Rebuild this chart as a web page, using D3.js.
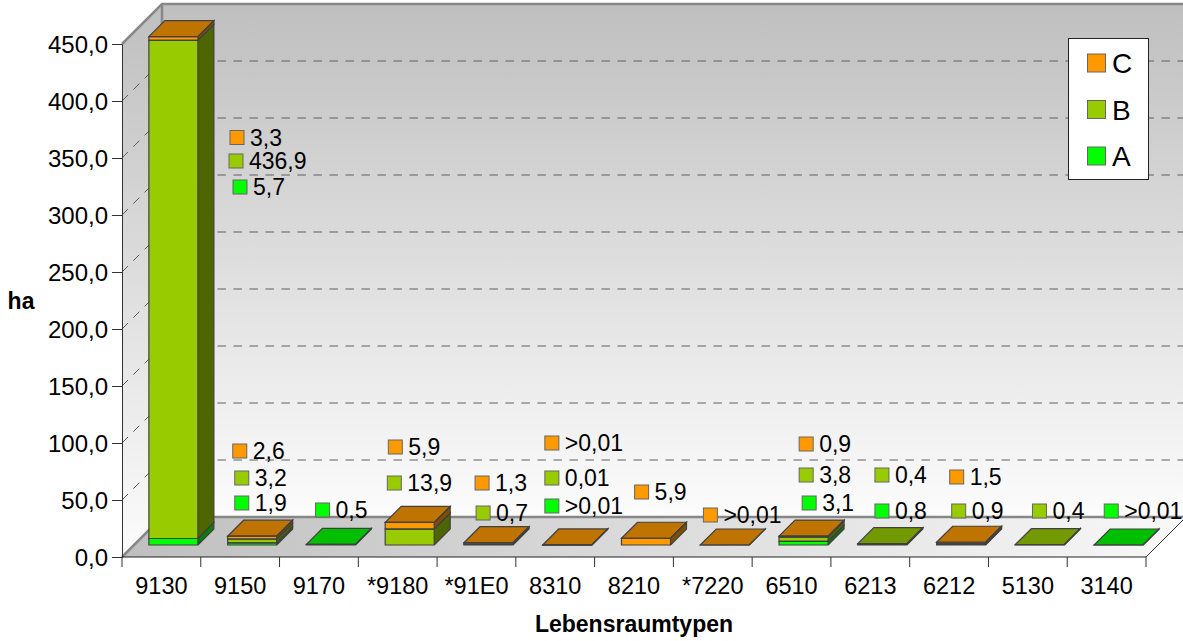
<!DOCTYPE html>
<html>
<head>
<meta charset="utf-8">
<script src="https://cdn.jsdelivr.net/npm/d3@7"></script>
<style>
body { margin: 0; background: #fff; overflow: hidden; }
text { font-family: "Liberation Sans", Arial, sans-serif; fill: #000; }
</style>
</head>
<body>
<div id="chart"></div>
<script>
var categories = ["9130", "9150", "9170", "*9180", "*91E0", "8310", "8210", "*7220", "6510", "6213", "6212", "5130", "3140"];
var yTicks = [0, 50, 100, 150, 200, 250, 300, 350, 400, 450];

// null = no segment in that class. ">0,01" is drawn as 0.01
var valuesA = [5.7, 1.9, 0.5, null, null, 0.01, null, null, 3.1, 0.8, null, null, 0.01];
var valuesB = [436.9, 3.2, null, 13.9, 0.7, 0.01, null, null, 3.8, 0.4, 0.9, 0.4, null];
var valuesC = [3.3, 2.6, null, 5.9, 1.3, 0.01, 5.9, 0.01, 0.9, null, 1.5, null, null];

var labelsA = ["5,7", "1,9", "0,5", null, null, ">0,01", null, null, "3,1", "0,8", null, null, ">0,01"];
var labelsB = ["436,9", "3,2", null, "13,9", "0,7", "0,01", null, null, "3,8", "0,4", "0,9", "0,4", null];
var labelsC = ["3,3", "2,6", null, "5,9", "1,3", ">0,01", "5,9", ">0,01", "0,9", null, "1,5", null, null];

// where the chart put each label box: [right of category edge, above floor line]
var spotsA = [[111, 370], [34, 54], [36, 47], null, null, [29, 51], null, null, [50, 54], [44, 46], null, null, [37, 46]];
var spotsB = [[107, 396], [34, 79], null, [29, 74], [39, 44], [29, 79], null, null, [47, 82], [44, 82], [42, 46], [44, 46], null];
var spotsC = [[108, 419.5], [32, 106], null, [30, 110], [38, 74], [29, 114], [40, 65], [30, 42], [47, 113], null, [40, 80], null, null];

var classes = [
    { name: "A", values: valuesA, labels: labelsA, spots: spotsA, front: "#00ff00", top: "#00bf00", side: "#008000" },
    { name: "B", values: valuesB, labels: labelsB, spots: spotsB, front: "#99cc00", top: "#739900", side: "#4d6600" },
    { name: "C", values: valuesC, labels: labelsC, spots: spotsC, front: "#ff9900", top: "#bf7300", side: "#804d00" }
];

var width = 1183, height = 641;
var left = 122, right = 1146, floorY = 557, topY = 44;
var wallDepth = 40, barDepth = 16, barInset = 12, barWidth = 49;

var svg = d3.select("#chart").append("svg")
    .attr("width", width)
    .attr("height", height)
    .style("display", "block");

var x = d3.scaleBand().domain(categories).range([left, right]);
var y = d3.scaleLinear().domain([0, 450]).range([floorY, topY]);

function points(list) {
    return list.map(function(p){ return p.join(","); }).join(" ");
}

// Wall gradients
var defs = svg.append("defs");
var wallGrad = defs.append("linearGradient").attr("id", "wall")
    .attr("x1", 0).attr("y1", 0).attr("x2", 0).attr("y2", 1);
wallGrad.append("stop").attr("offset", 0).attr("stop-color", "#bfbfbf");
wallGrad.append("stop").attr("offset", 1).attr("stop-color", "#fcfcfc");
var floorGrad = defs.append("linearGradient").attr("id", "floor")
    .attr("x1", 0).attr("y1", 0).attr("x2", 1).attr("y2", 0);
floorGrad.append("stop").attr("offset", 0).attr("stop-color", "#bfbfbf");
floorGrad.append("stop").attr("offset", 1).attr("stop-color", "#f8f8f8");

svg.append("polygon")
    .attr("points", points([[left, y(450)], [left + wallDepth, y(450) - wallDepth], [left + wallDepth, y(0) - wallDepth], [left, y(0)]]))
    .attr("fill", "url(#wall)");
svg.append("polygon")
    .attr("points", points([[left + wallDepth, y(450) - wallDepth], [right + wallDepth, y(450) - wallDepth], [right + wallDepth, y(0) - wallDepth], [left + wallDepth, y(0) - wallDepth]]))
    .attr("fill", "url(#wall)");
svg.append("polygon")
    .attr("points", points([[left, y(0)], [left + wallDepth, y(0) - wallDepth], [right + wallDepth, y(0) - wallDepth], [right, y(0)]]))
    .attr("fill", "url(#floor)");

// Grid lines, along the left wall and then the back wall
var gridTicks = yTicks.filter(function(d){ return d > 0 && d < 450; });
svg.append("g").selectAll("path")
    .data(gridTicks)
    .enter().append("path")
    .attr("d", function(d){
        return "M" + left + "," + y(d) + "L" + (left + wallDepth) + "," + (y(d) - wallDepth) + "L" + (right + wallDepth) + "," + (y(d) - wallDepth);
    })
    .attr("fill", "none")
    .attr("stroke", "#5e5e5e")
    .attr("stroke-width", 1)
    .attr("stroke-dasharray", "8.5,7.5");

// Wall edges
var edges = [
    [[left, y(450)], [left + wallDepth, y(450) - wallDepth], [right + wallDepth, y(450) - wallDepth]],
    [[left + wallDepth, y(450) - wallDepth], [left + wallDepth, y(0) - wallDepth]],
    [[left, y(0)], [left + wallDepth, y(0) - wallDepth], [right + wallDepth, y(0) - wallDepth]]
];
svg.append("g").selectAll("path")
    .data(edges)
    .enter().append("path")
    .attr("d", d3.line())
    .attr("fill", "none")
    .attr("stroke", "#878787")
    .attr("stroke-width", 2.5);
svg.append("line")
    .attr("x1", right).attr("y1", y(0))
    .attr("x2", right + wallDepth).attr("y2", y(0) - wallDepth)
    .attr("stroke", "#333")
    .attr("stroke-width", 1);

// Stacked 3D bars
var barsG = svg.append("g");
categories.forEach(function(cat, i){
    var x0 = x(cat) + (x.bandwidth() - barWidth) / 2 + barInset;
    var x1 = x0 + barWidth;
    var base = 0;
    var last = null;
    classes.forEach(function(c){
        if(c.values[i] === null) return;
        var y0 = y(base) - barInset;
        var y1 = y(base + c.values[i]) - barInset;
        barsG.append("polygon")
            .attr("points", points([[x1, y0], [x1 + barDepth, y0 - barDepth], [x1 + barDepth, y1 - barDepth], [x1, y1]]))
            .attr("fill", c.side);
        barsG.append("rect")
            .attr("x", x0).attr("y", y1)
            .attr("width", barWidth).attr("height", y0 - y1)
            .attr("fill", c.front);
        base += c.values[i];
        last = { c: c, y1: y1 };
    });
    barsG.append("polygon")
        .attr("points", points([[x0, last.y1], [x0 + barDepth, last.y1 - barDepth], [x1 + barDepth, last.y1 - barDepth], [x1, last.y1]]))
        .attr("fill", last.c.top);
    // outlines on top of the fills
    var b = 0;
    classes.forEach(function(c){
        if(c.values[i] === null) return;
        var y0 = y(b) - barInset;
        var y1 = y(b + c.values[i]) - barInset;
        barsG.append("path")
            .attr("d", "M" + x0 + "," + y0 + "H" + x1 + "V" + y1 + "H" + x0 + "Z"
                + "M" + x1 + "," + y0 + "l" + barDepth + "," + (-barDepth) + "V" + (y1 - barDepth) + "L" + x1 + "," + y1)
            .attr("fill", "none")
            .attr("stroke", "#404040")
            .attr("stroke-width", 1.2);
        b += c.values[i];
    });
    barsG.append("path")
        .attr("d", "M" + x0 + "," + last.y1 + "l" + barDepth + "," + (-barDepth) + "H" + (x1 + barDepth) + "L" + x1 + "," + last.y1 + "Z")
        .attr("fill", "none")
        .attr("stroke", "#404040")
        .attr("stroke-width", 1.2);
});

// Axes
var yAxis = d3.axisLeft(y)
    .tickValues(yTicks)
    .tickSize(10)
    .tickPadding(4)
    .tickFormat(function(d){ return d3.format(".1f")(d).replace(".", ","); });
var yAxisg = svg.append("g")
    .attr("transform", "translate(" + left + ",0)")
    .call(yAxis);
yAxisg.selectAll("text").style("font-size", "24px").attr("dy", "0.36em");
yAxisg.selectAll("line, path").attr("stroke", "#333");

var xAxis = d3.axisBottom(x).tickSize(0).tickPadding(20);
var xAxisg = svg.append("g")
    .attr("transform", "translate(0," + floorY + ")")
    .call(xAxis);
xAxisg.selectAll("text").style("font-size", "23.5px");
xAxisg.select(".domain").attr("stroke", "#222").attr("d", "M" + left + ",0H" + right);

// Ticks sit on the category edges
svg.append("g").selectAll("line")
    .data(categories.concat(["end"]))
    .enter().append("line")
    .attr("x1", function(d, i){ return left + i * x.bandwidth(); })
    .attr("x2", function(d, i){ return left + i * x.bandwidth(); })
    .attr("y1", floorY)
    .attr("y2", floorY + 10)
    .attr("stroke", "#333");

// Axis titles
svg.append("text")
    .attr("x", 21).attr("y", 309)
    .attr("text-anchor", "middle")
    .style("font-size", "23px")
    .style("font-weight", "bold")
    .text("ha");
svg.append("text")
    .attr("x", 634).attr("y", 632)
    .attr("text-anchor", "middle")
    .style("font-size", "23px")
    .style("font-weight", "bold")
    .text("Lebensraumtypen");

// Data labels with their colour keys
var labelsG = svg.append("g");
classes.forEach(function(c){
    categories.forEach(function(cat, i){
        if(c.labels[i] === null) return;
        var kx = x(cat) + c.spots[i][0];
        var ky = floorY - c.spots[i][1];
        labelsG.append("rect")
            .attr("x", kx).attr("y", ky - 7)
            .attr("width", 14).attr("height", 14)
            .attr("fill", c.front)
            .attr("stroke", "#666")
            .attr("stroke-width", 1);
        labelsG.append("text")
            .attr("x", kx + 20).attr("y", ky + 8)
            .style("font-size", "23px")
            .text(c.labels[i]);
    });
});

// Legend
var legend = svg.append("g");
legend.append("rect")
    .attr("x", 1068.5).attr("y", 38.5)
    .attr("width", 80).attr("height", 141)
    .attr("fill", "#fff")
    .attr("stroke", "#222");
classes.slice().reverse().forEach(function(c, i){
    var ly = 63 + i * 46.5;
    legend.append("rect")
        .attr("x", 1087.5).attr("y", ly - 9)
        .attr("width", 18).attr("height", 18)
        .attr("fill", c.front)
        .attr("stroke", "#666");
    legend.append("text")
        .attr("x", 1112).attr("y", ly + 10)
        .style("font-size", "28px")
        .text(c.name);
});
</script>
</body>
</html>
